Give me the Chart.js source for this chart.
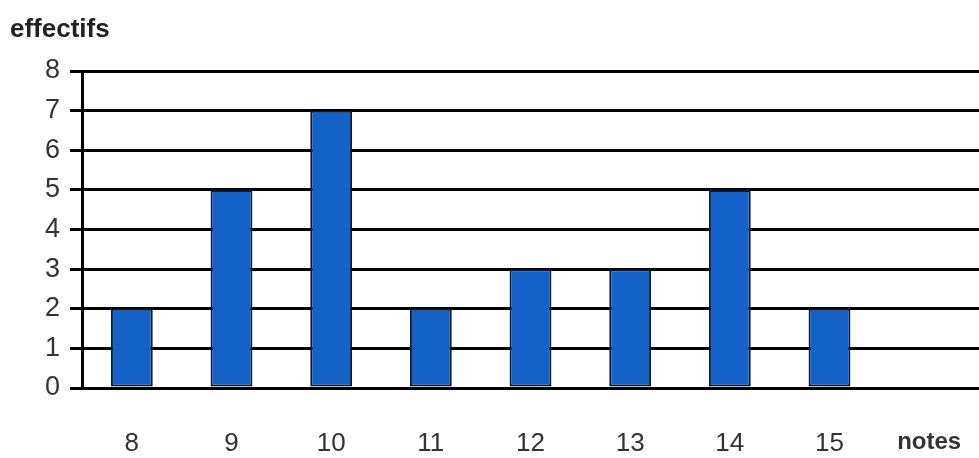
<!DOCTYPE html>
<html>
<head>
<meta charset="utf-8">
<script src="https://cdn.jsdelivr.net/npm/chart.js@4/dist/chart.umd.min.js"></script>
<style>
  html, body { margin: 0; padding: 0; background: #fff; }
  canvas { display: block; }
</style>
</head>
<body>
<canvas id="chart" width="979" height="458"></canvas>
<script>
// data
const notes = ['8', '9', '10', '11', '12', '13', '14', '15', 'notes'];
const effectifs = [2, 5, 7, 2, 3, 3, 5, 2, null];
const yTicks = [0, 1, 2, 3, 4, 5, 6, 7, 8];

const FONT = "'Liberation Sans', Arial, sans-serif";

// draws the y axis caption top-left
const captionPlugin = {
  id: 'caption',
  afterDraw(chart) {
    const ctx = chart.ctx;
    ctx.save();
    ctx.font = "bold 26px " + FONT;
    ctx.fillStyle = '#222';
    ctx.textBaseline = 'middle';
    ctx.fillText('effectifs', 10, 30);
    ctx.restore();
  }
};

new Chart(document.getElementById('chart'), {
  type: 'bar',
  data: {
    labels: notes,
    datasets: [{
      data: effectifs,
      backgroundColor: '#1461c8',
      borderColor: '#0a1a33',
      borderWidth: 2,
      borderSkipped: false,
      barPercentage: 0.42,
      categoryPercentage: 1
    }]
  },
  options: {
    responsive: false,
    animation: false,
    // plot runs a little past the right edge (cut off in the original)
    layout: { padding: { top: 71, left: 0, right: -10, bottom: 0 } },
    plugins: {
      legend: { display: false },
      tooltip: { enabled: false }
    },
    scales: {
      x: {
        grid: { display: false },
        border: { display: false },
        ticks: {
          color: '#333',
          padding: 32,
          font: c => (c.index === 8 ? { family: FONT, size: 24, weight: 'bold' } : { family: FONT, size: 26 })
        },
        afterFit: s => {
          s.height = 70;
          s.paddingLeft = 0;
          s.paddingRight = 0;
        }
      },
      y: {
        min: 0,
        max: 8,
        afterBuildTicks: s => { s.ticks = yTicks.map(v => ({ value: v })); },
        grid: { color: '#000', lineWidth: 3, tickLength: 12, tickColor: '#000' },
        border: { color: '#000', width: 3 },
        ticks: {
          color: '#333',
          padding: 10,
          font: { family: FONT, size: 27 }
        },
        afterFit: s => { s.width = 82; }
      }
    }
  },
  plugins: [captionPlugin]
});
</script>
</body>
</html>
